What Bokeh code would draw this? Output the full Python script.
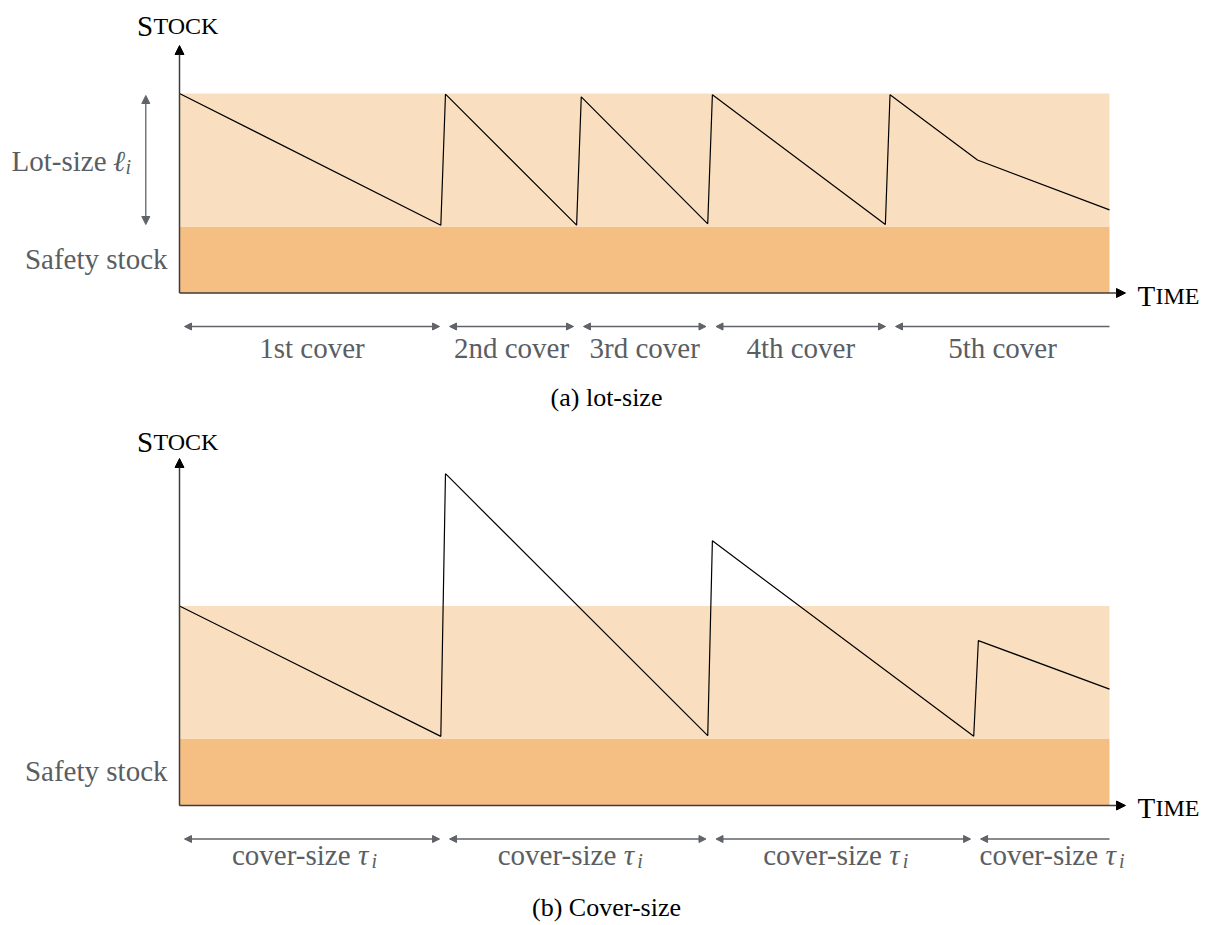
from bokeh.plotting import figure
from bokeh.models import Range1d, Arrow, NormalHead, Label, ColumnDataSource
from bokeh.layouts import column
from bokeh.core.properties import value
from bokeh.embed import file_html
from bokeh.resources import INLINE

# ---------------- data ----------------
SAFETY_STOCK = 1.0      # top of the safety-stock band
LOT_TOP = 3.0           # top of the lot-size band
TIME_END = 100.0

# (a) lot-size policy
time_a = [0.0, 28.1, 28.6, 42.7, 43.2, 56.8, 57.3, 75.9, 76.4, 85.8, 100.0]
stock_a = [3.0, 1.02, 2.99, 1.02, 2.95, 1.04, 2.98, 1.03, 2.98, 2.0, 1.25]
covers_a = [0.0, 28.5, 42.9, 57.15, 76.45, 100.0]
labels_a = ["1st cover", "2nd cover", "3rd cover", "4th cover", "5th cover"]

# (b) cover-size policy
time_b = [0.0, 28.1, 28.6, 56.8, 57.3, 85.4, 85.9, 100.0]
stock_b = [3.0, 1.04, 4.99, 1.05, 3.98, 1.04, 2.48, 1.75]
covers_b = [0.0, 28.5, 57.15, 85.6, 100.0]
labels_b = ["cover-size", "cover-size", "cover-size", "cover-size"]

# ---------------- style ----------------
FONT = "'Liberation Serif', 'Times New Roman', 'DejaVu Serif', serif"
GRAY = "#5a5e63"
AGRAY = "#606469"
LIGHT = "#f9dfbf"
DARK = "#f5bf83"
W = 1210
PX_X = 9.3     # pixels per time unit
PX_Y = 66.5    # pixels per stock unit
X0 = 179       # page x of the time origin
FS = "29px"
SC = "24px"
UP = 8         # baseline correction in pixels


def rx(px):
    return (px - X0) / PX_X


def make_panel(H, top_ref, y0_ref, times, stocks, covers, labels, tip_ref,
               caption, cap_ref, lot_arrow, tau):
    def ry(py):
        return (y0_ref - py) / PX_Y

    def rb(py):          # baseline position
        return (y0_ref - py + UP) / PX_Y

    p = figure(width=W, height=H, output_backend="svg", toolbar_location=None,
               x_range=Range1d(rx(0), rx(W)),
               y_range=Range1d(ry(top_ref + H), ry(top_ref)),
               x_axis_location=None, y_axis_location=None,
               min_border=0, outline_line_color=None,
               background_fill_color="white", border_fill_color="white")
    p.grid.visible = False

    # bands
    p.quad(left=0, right=TIME_END, bottom=0, top=SAFETY_STOCK,
           fill_color=DARK, line_color=None)
    p.quad(left=0, right=TIME_END, bottom=SAFETY_STOCK, top=LOT_TOP,
           fill_color=LIGHT, line_color=None)

    # stock curve
    p.line(times, stocks, line_color="black", line_width=1.2)

    # axes with arrow heads
    p.add_layout(Arrow(x_start=0, y_start=0, x_end=0, y_end=ry(tip_ref),
                       line_color="#3c3c3c", line_width=1.5,
                       end=NormalHead(size=9, fill_color="black", line_color="black", line_width=1)))
    p.add_layout(Arrow(x_start=0, y_start=0, x_end=rx(1125), y_end=0,
                       line_color="#3c3c3c", line_width=1.5,
                       end=NormalHead(size=9, fill_color="black", line_color="black", line_width=1)))

    # axis names in small caps
    base_s = rb(top_ref + 33)
    p.add_layout(Label(x=rx(136.5), y=base_s, text="S", text_font=FONT, text_font_size=FS,
                       text_color="black", text_align="left", text_baseline="alphabetic"))
    p.add_layout(Label(x=rx(153), y=base_s, text="TOCK", text_font=FONT, text_font_size=SC,
                       text_color="black", text_align="left", text_baseline="alphabetic"))
    base_t = rb(y0_ref + 10.5)
    p.add_layout(Label(x=rx(1137), y=base_t, text="T", text_font=FONT, text_font_size=FS,
                       text_color="black", text_align="left", text_baseline="alphabetic"))
    p.add_layout(Label(x=rx(1155), y=base_t, text="IME", text_font=FONT, text_font_size=SC,
                       text_color="black", text_align="left", text_baseline="alphabetic"))

    # safety stock label
    p.add_layout(Label(x=rx(167), y=rb(y0_ref - 26.5), text="Safety stock", text_font=FONT,
                       text_font_size=FS, text_color=GRAY, text_align="right",
                       text_baseline="alphabetic"))

    # lot-size double arrow
    if lot_arrow:
        gap = 2.0 / PX_Y
        p.add_layout(Arrow(x_start=rx(145.3), x_end=rx(145.3),
                           y_start=SAFETY_STOCK + gap, y_end=LOT_TOP - gap,
                           line_color=AGRAY, line_width=1.3,
                           start=NormalHead(size=8, fill_color=AGRAY, line_color=AGRAY),
                           end=NormalHead(size=8, fill_color=AGRAY, line_color=AGRAY)))
        yb = rb(168)
        p.add_layout(Label(x=rx(106), y=yb, text="Lot-size", text_font=FONT,
                           text_font_size=FS, text_color=GRAY, text_align="right",
                           text_baseline="alphabetic"))
        p.add_layout(Label(x=rx(112.5), y=yb, text="\u2113", text_font=FONT,
                           text_font_size=FS, text_font_style="italic", text_color=GRAY,
                           text_align="left", text_baseline="alphabetic"))
        p.add_layout(Label(x=rx(125), y=rb(174), text="i", text_font=FONT,
                           text_font_size="20px", text_font_style="italic", text_color=GRAY,
                           text_align="left", text_baseline="alphabetic"))

    # cover arrows and labels
    gapx = 5.0 / PX_X
    y_arrow = ry(y0_ref + 33.5)
    n = len(covers) - 1
    centers = []
    for i in range(n):
        xs = covers[i] + gapx
        last = (i == n - 1)
        xe = covers[i + 1] if last else covers[i + 1] - gapx
        head = NormalHead(size=7, fill_color=AGRAY, line_color=AGRAY)
        p.add_layout(Arrow(x_start=xs, x_end=xe, y_start=y_arrow, y_end=y_arrow,
                           line_color=AGRAY, line_width=1.3,
                           start=NormalHead(size=7, fill_color=AGRAY, line_color=AGRAY),
                           end=None if last else head))
        if tau and last:
            centers.append(xs + 79.0 / PX_X)
        else:
            centers.append((xs + xe) / 2.0)

    if not tau:
        src = ColumnDataSource(dict(x=centers, y=[rb(y0_ref + 62.5)] * n, t=labels))
        p.text(x="x", y="y", text="t", source=src, text_font=value(FONT),
               text_font_size=FS, text_color=GRAY, text_align="center",
               text_baseline="alphabetic")
    else:
        yb = rb(y0_ref + 57)
        src = ColumnDataSource(dict(x=[c + 38.5 / PX_X for c in centers], y=[yb] * n, t=labels))
        p.text(x="x", y="y", text="t", source=src, text_font=value(FONT),
               text_font_size=FS, text_color=GRAY, text_align="right",
               text_baseline="alphabetic")
        src2 = ColumnDataSource(dict(x=[c + 46 / PX_X for c in centers], y=[yb] * n,
                                     t=["\u03c4"] * n))
        p.text(x="x", y="y", text="t", source=src2, text_font=value(FONT),
               text_font_size=FS, text_font_style="italic", text_color=GRAY,
               text_align="left", text_baseline="alphabetic")
        src3 = ColumnDataSource(dict(x=[c + 59.5 / PX_X for c in centers],
                                     y=[rb(y0_ref + 63)] * n, t=["i"] * n))
        p.text(x="x", y="y", text="t", source=src3, text_font=value(FONT),
               text_font_size="20px", text_font_style="italic", text_color=GRAY,
               text_align="left", text_baseline="alphabetic")

    # caption
    p.add_layout(Label(x=rx(606), y=ry(cap_ref), text=caption, text_font=FONT,
                       text_font_size="26px", text_color="black", text_align="center",
                       text_baseline="middle"))
    return p


p1 = make_panel(416, 0, 292.5, time_a, stock_a, covers_a, labels_a, 45,
                "(a) lot-size", 397, True, False)
p2 = make_panel(507, 416, 805, time_b, stock_b, covers_b, labels_b, 458,
                "(b) Cover-size", 907, False, True)

layout = column(p1, p2, spacing=0)
open("out.html", "w").write(file_html(layout, INLINE))
